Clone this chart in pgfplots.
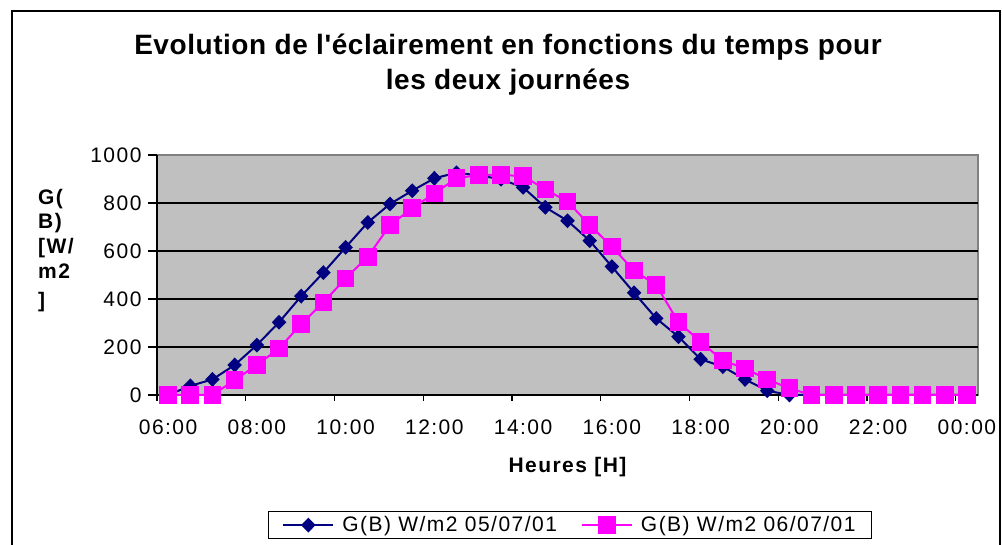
\documentclass[border=0pt]{standalone}
\usepackage{fontspec}
\setmainfont{Liberation Sans}
\newfontfamily\tickfont[LetterSpace=7]{Liberation Sans}
\newfontfamily\titlefont[LetterSpace=2]{Liberation Sans}
\usepackage{pgfplots}
\pgfplotsset{compat=1.18}
\definecolor{navyc}{HTML}{000080}
\definecolor{magc}{HTML}{FF00FF}
\definecolor{plotbg}{HTML}{C0C0C0}
\definecolor{bordergray}{HTML}{808080}
\begin{document}
\begin{tikzpicture}
\path[use as bounding box] (0pt,0pt) rectangle (1002pt,545pt);
\draw[line width=2pt] (12pt,-5pt) -- (12pt,534pt) -- (1000pt,534pt) -- (1000pt,-5pt);
\node[anchor=base, inner sep=0pt, font=\titlefont\bfseries\fontsize{28}{34}\selectfont] at (508pt,490pt) {Evolution de l'éclairement en fonctions du temps pour};
\node[anchor=base, inner sep=0pt, font=\titlefont\bfseries\fontsize{28}{34}\selectfont] at (508pt,455pt) {les deux journées};
\begin{scope}[every node/.style={anchor=base west, inner sep=0pt, font=\tickfont\bfseries\fontsize{21}{25}\selectfont}]
\node at (38pt,340pt) {G(};
\node at (38pt,316pt) {B)};
\node at (38pt,291pt) {[W/};
\node at (38pt,266pt) {m2};
\node at (38pt,237pt) {]};
\end{scope}
\begin{axis}[
  at={(157pt,150pt)}, anchor=south west,
  scale only axis, width=821pt, height=240pt,
  xmin=-0.5, xmax=36.5, ymin=0, ymax=1000,
  clip=false,
  axis lines=left,
  axis line style={-, black, line width=1.3pt},
  axis background/.style={fill=plotbg, draw=bordergray, line width=1.5pt},
  tick align=outside,
  ytick={0,200,400,600,800},
  extra y ticks={1000},
  extra y tick style={grid=none},
  ymajorgrids,
  major grid style={black, line width=1.2pt},
  ytick style={black, line width=1.3pt},
  major tick length=9pt,
  xtick={0,4,...,36},
  xticklabels={06:00,08:00,10:00,12:00,14:00,16:00,18:00,20:00,22:00,00:00},
  xtick style={draw=none},
  extra x ticks={-0.5,3.5,...,35.5},
  extra x tick labels={},
  extra x tick style={xtick style={draw=black, line width=1.3pt}, major tick length=6pt},
  /pgf/number format/assume math mode=true,
  /pgf/number format/1000 sep={},
  every tick label/.append style={font=\tickfont\fontsize{21}{25}\selectfont, text=black},
  xticklabel style={anchor=base, yshift=-31pt},
  yticklabel style={anchor=east, xshift=-3pt},
  xlabel={Heures [H]},
  every axis x label/.style={at={(axis description cs:0.5,0)}, anchor=base, yshift=-78pt, font=\tickfont\bfseries\fontsize{21}{25}\selectfont},
  legend columns=2,
  legend style={at={(0.503,-0.542)}, anchor=center, draw=black, line width=1.3pt,
    font=\tickfont\fontsize{21}{25}\selectfont, inner xsep=14pt, inner ysep=3pt,
    /tikz/every odd column/.append style={column sep=6pt},
    /tikz/every even column/.append style={column sep=22pt}},
  legend image code/.code={\draw[mark repeat=2,mark phase=2] plot coordinates {(0pt,0pt)(25pt,0pt)(50pt,0pt)};},
]
\addplot[color=navyc, line width=2pt, mark=diamond*, mark size=6pt, mark options={solid, xscale=1.3}] coordinates {
(0,0) (1,38) (2,65) (3,125) (4,208) (5,303) (6,412) (7,510) (8,615) (9,719)
(10,796) (11,851) (12,903) (13,926) (14,915) (15,899) (16,865) (17,782) (18,726) (19,643)
(20,535) (21,426) (22,319) (23,243) (24,149) (25,118) (26,65) (27,18) (28,0) (29,0)
(30,0) (31,0) (32,0) (33,0) (34,0) (35,0) (36,0)};
\addlegendentry{G(B) W/m2 05/07/01}
\addplot[color=magc, line width=2pt, mark=square*, mark size=7.8pt, mark options={solid}] coordinates {
(0,0) (1,0) (2,0) (3,62) (4,125) (5,194) (6,296) (7,386) (8,486) (9,576)
(10,708) (11,778) (12,840) (13,903) (14,917) (15,917) (16,912) (17,857) (18,806) (19,708)
(20,618) (21,518) (22,458) (23,303) (24,222) (25,143) (26,111) (27,65) (28,28) (29,0)
(30,0) (31,0) (32,0) (33,0) (34,0) (35,0) (36,0)};
\addlegendentry{G(B) W/m2 06/07/01}
\end{axis}
\end{tikzpicture}
\end{document}
